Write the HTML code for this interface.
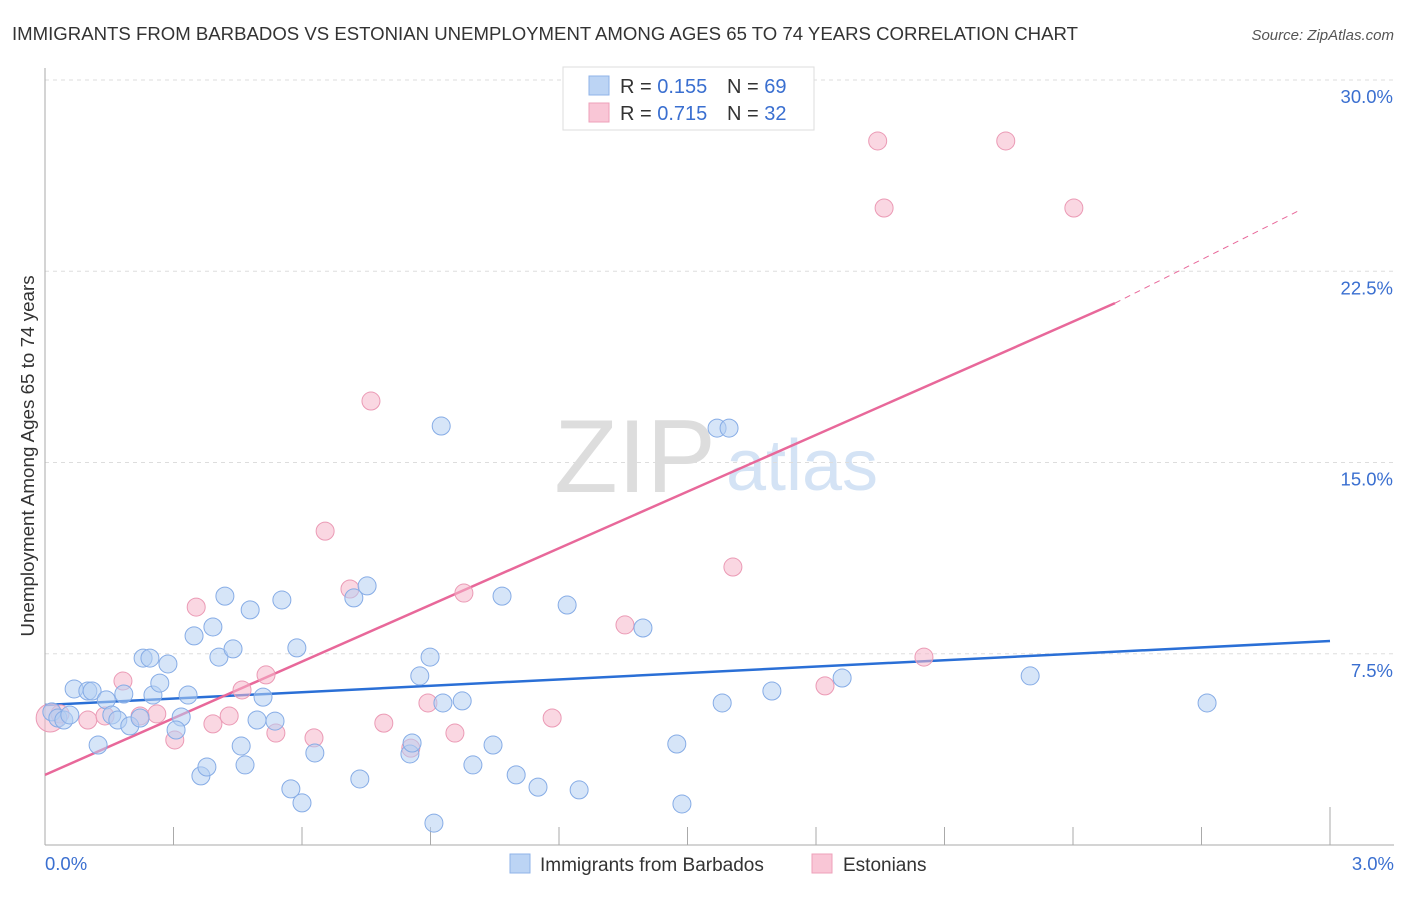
<!DOCTYPE html>
<html><head><meta charset="utf-8"><style>
body{margin:0;background:#fff;font-family:"Liberation Sans",sans-serif}
svg text{font-family:"Liberation Sans",sans-serif}
</style></head><body>
<svg id="chart" width="1406" height="892">
<text x="12" y="40" font-size="18.6" fill="#333">IMMIGRANTS FROM BARBADOS VS ESTONIAN UNEMPLOYMENT AMONG AGES 65 TO 74 YEARS CORRELATION CHART</text>
<text x="1394" y="40" font-size="15" fill="#555" font-style="italic" text-anchor="end">Source: ZipAtlas.com</text>
<g>
<text x="635" y="492" font-size="104" fill="#ddd" font-family="Liberation Serif" text-anchor="middle">ZIP</text>
<text x="802" y="490" font-size="72" fill="#d4e3f5" text-anchor="middle">atlas</text>
</g>
<g id="grid"></g><g id="axes"></g><g id="lines"></g><g id="pts"></g>
<text transform="translate(34,456) rotate(-90)" font-size="18.8" fill="#333" text-anchor="middle">Unemployment Among Ages 65 to 74 years</text>
<g>
<rect x="563" y="67" width="251" height="63" fill="#fff" stroke="#ddd"/>
<rect x="589" y="76" width="20" height="19" fill="#bcd4f4" stroke="#8fb3e8"/>
<rect x="589" y="103" width="20" height="19" fill="#f9c6d6" stroke="#eea0ba"/>
<text x="620" y="93" font-size="20" fill="#333">R = <tspan fill="#3a6fd0">0.155</tspan></text>
<text x="727" y="93" font-size="20" fill="#333">N = <tspan fill="#3a6fd0">69</tspan></text>
<text x="620" y="120" font-size="20" fill="#333">R = <tspan fill="#3a6fd0">0.715</tspan></text>
<text x="727" y="120" font-size="20" fill="#333">N = <tspan fill="#3a6fd0">32</tspan></text>
</g>
<g>
<rect x="510" y="854" width="20" height="19" fill="#bcd4f4" stroke="#8fb3e8"/>
<text x="540" y="871" font-size="19" fill="#333">Immigrants from Barbados</text>
<rect x="812" y="854" width="20" height="19" fill="#f9c6d6" stroke="#eea0ba"/>
<text x="843" y="871" font-size="19" fill="#333">Estonians</text>
</g>
</svg>
<script>
const yTicks=[7.5,15,22.5,30];
const yTickLabels=["7.5%","15.0%","22.5%","30.0%"];
const xTickLabels=["0.0%","3.0%"];
const blueX=[0.016,0.030,0.044,0.058,0.068,0.100,0.110,0.124,0.143,0.156,0.170,0.184,0.198,0.222,0.229,0.245,0.252,0.268,0.287,0.318,0.306,0.334,0.348,0.364,0.378,0.392,0.406,0.420,0.439,0.458,0.467,0.479,0.495,0.509,0.537,0.553,0.574,0.588,0.600,0.630,0.721,0.735,0.752,0.852,0.857,0.875,0.899,0.908,0.925,0.929,0.974,0.999,1.046,1.067,1.100,1.151,1.219,1.247,1.396,1.475,1.487,1.569,1.597,1.581,1.697,1.861,2.300,2.713];
const blueY=[5.22,4.98,4.90,5.10,6.12,6.04,6.04,3.92,5.69,5.10,4.90,5.92,4.67,4.98,7.33,7.33,5.88,6.35,7.10,5.02,4.51,5.88,8.20,2.71,3.06,8.55,7.37,9.76,7.69,3.88,3.14,9.22,4.90,5.80,4.86,9.61,2.20,7.73,1.65,3.61,9.69,2.59,10.16,3.57,4.00,6.63,7.37,0.86,16.43,5.57,5.65,3.14,3.92,9.76,2.75,2.27,9.41,2.16,8.51,3.96,1.61,16.35,16.35,5.57,6.04,6.55,6.63,5.57];
const pinkX=[0.012,0.035,0.100,0.140,0.182,0.222,0.261,0.303,0.353,0.392,0.430,0.460,0.516,0.539,0.628,0.654,0.712,0.761,0.791,0.854,0.894,0.957,0.978,1.184,1.354,1.606,1.821,1.944,1.959,2.052,2.243,2.402];
const pinkY=[4.98,5.14,4.90,5.06,6.43,5.06,5.14,4.12,9.33,4.75,5.06,6.08,6.67,4.39,4.20,12.31,10.04,17.41,4.78,3.80,5.57,4.39,9.88,4.98,8.63,10.90,6.24,27.61,24.98,7.37,27.61,24.98];
const blueLine=[5.49,8.0];
const pinkLine=[2.75,21.25,24.9];
const pinkLineX=[0,2.498,2.93];
const NS="http://www.w3.org/2000/svg";
const X=v=>45+v/3*1285, Y=v=>845-v/30*765;
function mk(p,t,a){const e=document.createElementNS(NS,t);for(const k in a)e.setAttribute(k,a[k]);document.getElementById(p).appendChild(e);return e;}
yTicks.forEach((t,i)=>{
 const g=mk('grid','line',{x1:45,x2:1394,y1:Y(t),y2:Y(t),stroke:'#ddd','stroke-dasharray':'4,4'});
 
 
 const l=mk('axes','text',{x:1393,y:Y(t)+23,'font-size':18.5,fill:'#3a6fd0','text-anchor':'end'});
 l.textContent=yTickLabels[i];
 
 
});
let a=mk('axes','line',{x1:45,x2:45,y1:68,y2:845,stroke:'#aaa'});


a=mk('axes','line',{x1:45,x2:1394,y1:845,y2:845,stroke:'#aaa'});


for(let i=1;i<=10;i++){const x=X(i*0.3);const t=mk('axes','line',{x1:x,x2:x,y1:i==10?807:827,y2:845,stroke:'#aaa'});
 
 }
[[0,'start',45],[3,'end',1394]].forEach((d,i)=>{const t=mk('axes','text',{x:d[2],y:870,'font-size':18.5,fill:'#3a6fd0','text-anchor':d[1]});t.textContent=xTickLabels[i];
 
 });
function dots(xs,ys,fill,stroke,name){xs.forEach((x,i)=>{const c=mk('pts','circle',{cx:X(x),cy:Y(ys[i]),r:(name=='pink-point'&&i==0)?14:9,fill:fill,'fill-opacity':0.55,stroke:stroke,'stroke-width':1});
 
 });}
dots(pinkX,pinkY,'#f6b6ca','#eb9ab5','pink-point');
dots(blueX,blueY,'#b5cff3','#86acE6','blue-point');
let l=mk('lines','line',{x1:X(0),y1:Y(blueLine[0]),x2:X(3),y2:Y(blueLine[1]),stroke:'#2a6fd6','stroke-width':2.5});


l=mk('lines','line',{x1:X(pinkLineX[0]),y1:Y(pinkLine[0]),x2:X(pinkLineX[1]),y2:Y(pinkLine[1]),stroke:'#e8689a','stroke-width':2.5});


l=mk('lines','line',{x1:X(pinkLineX[1]),y1:Y(pinkLine[1]),x2:X(pinkLineX[2]),y2:Y(pinkLine[2]),stroke:'#e8689a','stroke-width':1,'stroke-dasharray':'6,5'});


</script>
</body></html>
